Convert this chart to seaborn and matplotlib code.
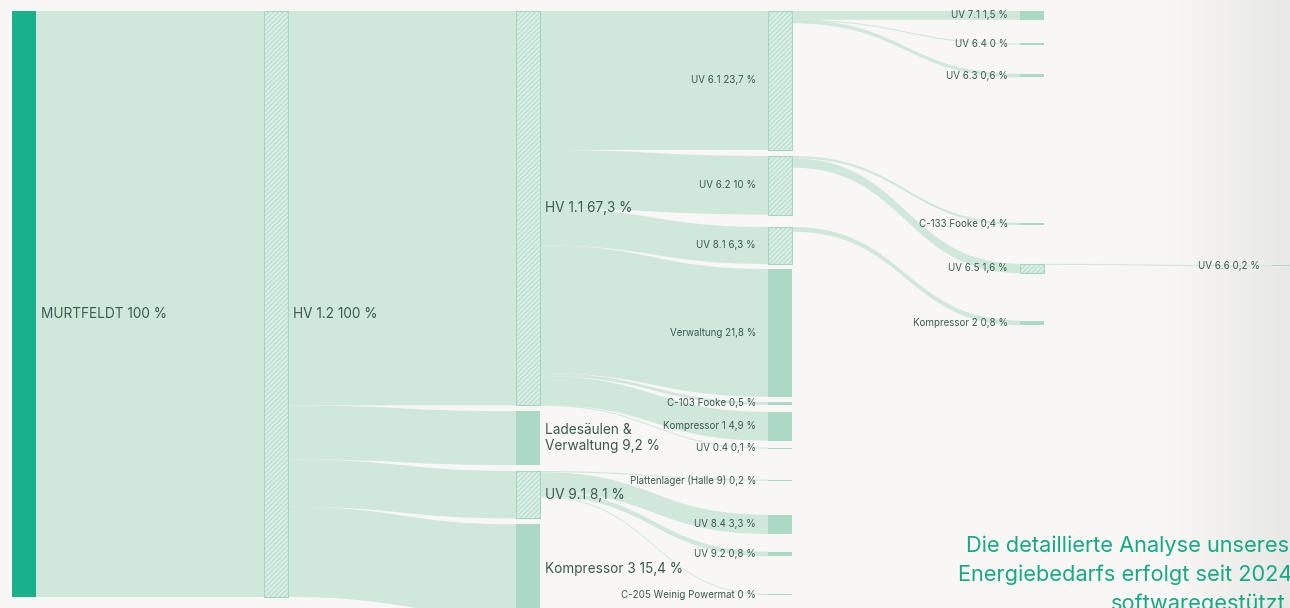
import numpy as np
import pandas as pd
import matplotlib
matplotlib.use("Agg")
import matplotlib.pyplot as plt
from matplotlib.path import Path
from matplotlib.patches import PathPatch, Rectangle
from matplotlib.colors import to_rgb
import seaborn as sns

# ---------------- data ----------------
node_names = ["MURTFELDT", "HV 1.2", "HV 1.1", "Ladesäulen &\nVerwaltung", "UV 9.1", "Kompressor 3",
              "UV 6.1", "UV 6.2", "UV 8.1", "Verwaltung", "C-103 Fooke", "Kompressor 1", "UV 0.4",
              "Plattenlager (Halle 9)", "UV 8.4", "UV 9.2", "C-205 Weinig Powermat",
              "UV 7.1", "UV 6.4", "UV 6.3", "C-133 Fooke", "UV 6.5", "Kompressor 2", "UV 6.6"]
node_values = [100, 100, 67.3, 9.2, 8.1, 15.4,
               23.7, 10, 6.3, 21.8, 0.5, 4.9, 0.1, 0.2, 3.3, 0.8, 0,
               1.5, 0, 0.6, 0.4, 1.6, 0.8, 0.2]
link_sources = ["MURTFELDT", "HV 1.2", "HV 1.2", "HV 1.2", "HV 1.2",
                "HV 1.1", "HV 1.1", "HV 1.1", "HV 1.1", "HV 1.1", "HV 1.1", "HV 1.1",
                "UV 9.1", "UV 9.1", "UV 9.1", "UV 9.1",
                "UV 6.1", "UV 6.1", "UV 6.1", "UV 6.2", "UV 6.2", "UV 8.1", "UV 6.5"]
link_targets = ["HV 1.2", "HV 1.1", "Ladesäulen &\nVerwaltung", "UV 9.1", "Kompressor 3",
                "UV 6.1", "UV 6.2", "UV 8.1", "Verwaltung", "C-103 Fooke", "Kompressor 1", "UV 0.4",
                "Plattenlager (Halle 9)", "UV 8.4", "UV 9.2", "C-205 Weinig Powermat",
                "UV 7.1", "UV 6.4", "UV 6.3", "C-133 Fooke", "UV 6.5", "Kompressor 2", "UV 6.6"]
link_values = [100, 67.3, 9.2, 8.1, 15.4,
               23.7, 10, 6.3, 21.8, 0.5, 4.9, 0.1,
               0.2, 3.3, 0.8, 0,
               1.5, 0, 0.6, 0.4, 1.6, 0.8, 0.2]
caption_lines = ["Die detaillierte Analyse unseres", "Energiebedarfs erfolgt seit 2024", "softwaregestützt"]

# ---------------- layout ----------------
node_column = [0, 1, 2, 2, 2, 2] + [3] * 11 + [4] * 6 + [5]
gap_before = [0, 0, 0, 1.0, 1.0, 1.0,
              0, 1.04, 2.12, 0.87, 0.89, 1.2, 1.17, 5.26, 5.8, 3.0, 6.43,
              0, 4.03, 5.0, 24.8, 6.6, 8.1,
              43.4]
label_dy_px = {0: 10, 1: 10}
MIN_H = 0.2
PX_X = 252.0          # pixels per column
PX_Y = 5.86           # pixels per percent
NODE_W = 24 / PX_X

BG = "#f8f7f5"
FLOW = "#d0e8dc"
DARK = "#19b08c"
LEAF = "#acd8c6"
HATCH_FACE = "#d9ede4"
HATCH_EDGE = "#a8d6c4"
TEXT = "#3b5a50"
CAPTION = "#17a984"

sns.set_theme(style="white")
plt.rcParams["font.family"] = ["Inter", "DejaVu Sans"]
plt.rcParams["hatch.linewidth"] = 0.5

nodes = pd.DataFrame({"name": node_names, "value": node_values, "col": node_column, "gap": gap_before})
nodes["h"] = nodes["value"].clip(lower=MIN_H)
tops = []
bottom_by_col = {}
for _, r in nodes.iterrows():
    prev = bottom_by_col.get(r["col"], 0.0)
    t = prev + r["gap"]
    tops.append(t)
    bottom_by_col[r["col"]] = t + r["h"]
nodes["top"] = tops
nodes = nodes.set_index("name")

links = pd.DataFrame({"s": link_sources, "t": link_targets, "v": link_values})
links["w"] = links["v"].clip(lower=0.18)

fig = plt.figure(figsize=(12.9, 6.08), dpi=100, facecolor=BG)
ax = fig.add_axes([0, 0, 1, 1])
ax.set_facecolor(BG)
xlim = (-12 / PX_X, 1278 / PX_X)
ylim = (597 / PX_Y, -11 / PX_Y)

# right-edge shading
c0 = np.array(to_rgb(BG)); c1 = np.array(to_rgb("#e8e8e7"))
tt = np.linspace(0, 1, 256)[None, :, None]
grad = c0 * (1 - tt) + c1 * tt
ax.imshow(grad, extent=[(1170 - 12) / PX_X, xlim[1], ylim[0], ylim[1]], aspect="auto", zorder=0)

# links
out_off = {n: 0.0 for n in nodes.index}
in_off = {n: 0.0 for n in nodes.index}
for _, l in links.iterrows():
    s = nodes.loc[l["s"]]; t = nodes.loc[l["t"]]
    x0 = s["col"] + NODE_W; x1 = t["col"]
    ys0 = s["top"] + out_off[l["s"]]; ys1 = ys0 + l["w"]
    yt0 = t["top"] + in_off[l["t"]]; yt1 = yt0 + l["w"]
    out_off[l["s"]] += l["v"]; in_off[l["t"]] += l["v"]
    xm = (x0 + x1) / 2
    verts = [(x0, ys0), (xm, ys0), (xm, yt0), (x1, yt0), (x1, yt1),
             (xm, yt1), (xm, ys1), (x0, ys1), (x0, ys0)]
    codes = [Path.MOVETO, Path.CURVE4, Path.CURVE4, Path.CURVE4, Path.LINETO,
             Path.CURVE4, Path.CURVE4, Path.CURVE4, Path.CLOSEPOLY]
    ax.add_patch(PathPatch(Path(verts, codes), facecolor=FLOW, edgecolor="none", zorder=1))

has_children = set(links["s"])

def fmt(v):
    return f"{v:g}".replace(".", ",")

for name, r in nodes.iterrows():
    x = r["col"]
    if r["col"] == 0:
        ax.add_patch(Rectangle((x, r["top"]), NODE_W, r["h"], facecolor=DARK, edgecolor="none", zorder=2))
    elif name in has_children:
        ax.add_patch(Rectangle((x, r["top"]), NODE_W, r["h"], facecolor=HATCH_FACE,
                               edgecolor=HATCH_EDGE, hatch="///////", linewidth=0.8, zorder=2))
    else:
        ax.add_patch(Rectangle((x, r["top"]), NODE_W, r["h"], facecolor=LEAF, edgecolor="none", zorder=2))
    label = f"{name} {fmt(r['value'])} %"
    yc = r["top"] + r["h"] / 2 + label_dy_px.get(r["col"], 0) / PX_Y
    if r["col"] <= 2:
        ax.text(x + NODE_W + 5 / PX_X, yc, label, ha="left", va="center", fontsize=9.8,
                color=TEXT, zorder=3, linespacing=1.15)
    else:
        ax.text(x - 12 / PX_X, yc, label, ha="right", va="center", fontsize=7,
                color=TEXT, zorder=3)

ax.set_xlim(*xlim)
ax.set_ylim(*ylim)
ax.axis("off")
sns.despine(ax=ax, left=True, bottom=True)

cap_x = [966, 958, 1111]
cap_y = [552, 581, 610]
for txt, cx, cy in zip(caption_lines, cap_x, cap_y):
    fig.text(cx / 1290, 1 - cy / 608, txt, ha="left", va="baseline", fontsize=15.7, color=CAPTION)

fig.savefig("out.png", dpi=100, facecolor=BG)
